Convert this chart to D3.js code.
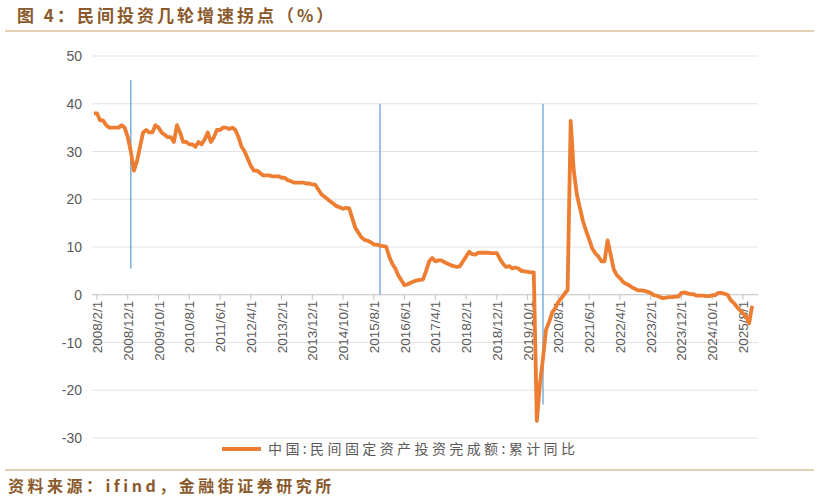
<!DOCTYPE html>
<html><head><meta charset="utf-8">
<script src="https://cdn.jsdelivr.net/npm/d3@7/dist/d3.min.js"></script>
<style>body{margin:0;background:#fff;font-family:"Noto Sans CJK SC",sans-serif}</style>
</head><body><svg id="c" width="819" height="501"></svg>
<script>
// monthly values from Jan 2008 (cumulative YoY, %); category positions
const startYear = 2008;
const values = [
  38, 38, 36.5, 36.5, 35.5, 35, 35, 35, 35, 35.5, 35, 33,
  30, 26, 28, 31, 34, 34.5, 34, 34, 35.5, 35, 34, 33.5,
  33, 33, 32, 35.5, 34, 32, 32, 31.5, 31.5, 31, 32, 31.5,
  32.5, 34, 32, 33, 34.5, 34.5, 35, 35, 34.7, 35, 34.5, 33,
  31, 30, 28.5, 27, 26, 26, 25.5, 25, 25, 25, 24.8, 24.8,
  24.8, 24.5, 24.5, 24, 23.8, 23.5, 23.5, 23.5, 23.5, 23.3, 23.3, 23.1,
  23, 22, 21, 20.5, 20, 19.5, 19, 18.5, 18.3, 18, 18.2, 18.1,
  16, 14, 13, 12, 11.5, 11.3, 11, 10.5, 10.5, 10.3, 10.2, 10.1,
  8, 6.5, 5.5, 4, 3, 2, 2.2, 2.5, 2.8, 3, 3.1, 3.2,
  5, 7, 7.7, 7, 7.2, 7.2, 6.8, 6.5, 6.2, 6, 5.8, 6,
  7, 8, 9, 8.5, 8.4, 8.8, 8.8, 8.8, 8.8, 8.7, 8.7, 8.7,
  7.5, 6.5, 5.8, 6, 5.5, 5.7, 5.5, 5, 4.9, 4.8, 4.7, 4.7,
  -26.4, -18.8, -13.3, -7.3, -5.7, -3.7, -2.8, -1.5, -0.7, 0.2, 1.0,
  36.4, 26, 21, 18.2, 15.4, 13.4, 11.6, 9.7, 8.7, 8, 7,
  7, 11.4, 8.4, 5.3, 4.1, 3.5, 2.7, 2.3, 2.0, 1.5, 1.2, 0.9,
  0.9, 0.8, 0.6, 0.4, -0.1, -0.2, -0.5, -0.7, -0.6, -0.5, -0.5, -0.4,
  -0.4, 0.4, 0.5, 0.3, 0.1, 0.1, -0.2, -0.2, -0.2, -0.3, -0.3, -0.1,
  -0.1, 0.4, 0.4, 0.2, 0, -1.1, -1.7, -2.5, -3.2, -3.9, -4.5, -6.0, -2.3
];
const yTicks = [50, 40, 30, 20, 10, 0, -10, -20, -30];
// turning points: [category index, top value, bottom value]
const markers = [[12, 45, 5.5], [93, 40, 0], [146, 40, -23]];
const seriesName = "中国:民间固定资产投资完成额:累计同比";

const svg = d3.select("#c");
const brown = "#8a5a2c";
const x = d3.scaleLinear().domain([1, 212]).range([97, 746]);
const y = d3.scaleLinear().domain([-30, 50]).range([438, 56]);

svg.append("text").attr("x", 17).attr("y", 22).attr("fill", brown)
  .attr("font-size", 17).attr("font-weight", "bold").attr("letter-spacing", 3)
  .text("图 4：民间投资几轮增速拐点（%）");
svg.append("line").attr("x1", 5).attr("x2", 814).attr("y1", 31).attr("y2", 31)
  .attr("stroke", "#c9a46a").attr("stroke-width", 1.2);

svg.selectAll(".grid").data(yTicks).join("line")
  .attr("x1", 92).attr("x2", 758).attr("y1", d => y(d)).attr("y2", d => y(d))
  .attr("stroke", d => d === 0 ? "#bfbfbf" : "#e3e3e3");
svg.selectAll(".yl").data(yTicks).join("text")
  .attr("x", 82).attr("y", d => y(d) + 5).attr("text-anchor", "end")
  .attr("font-family", "Liberation Sans, Arial").attr("font-size", 14).attr("fill", "#595959")
  .text(d => d);

// x ticks every 10 months from 2008/2
const xt = d3.range(1, 213, 10);
const g = svg.append("g");
g.selectAll("line").data(xt).join("line")
  .attr("x1", d => x(d)).attr("x2", d => x(d)).attr("y1", y(0)).attr("y2", y(0) + 5)
  .attr("stroke", "#bfbfbf");
g.selectAll("text").data(xt).join("text")
  .attr("transform", d => `translate(${x(d) + 5},${y(0) + 6}) rotate(-90)`)
  .attr("text-anchor", "end").attr("font-family", "Liberation Sans, Arial")
  .attr("font-size", 13.5).attr("fill", "#595959")
  .text(d => `${startYear + Math.floor(d / 12)}/${d % 12 + 1}/1`);

svg.selectAll(".mk").data(markers).join("line")
  .attr("x1", d => x(d[0])).attr("x2", d => x(d[0]))
  .attr("y1", d => y(d[1])).attr("y2", d => y(d[2]))
  .attr("stroke", "#5b9bd5").attr("stroke-width", 1.2);

svg.append("path").datum(values)
  .attr("d", d3.line().x((d, i) => x(i)).y(d => y(d)))
  .attr("fill", "none").attr("stroke", "#ed7d31").attr("stroke-width", 3.8)
  .attr("stroke-linejoin", "round");

svg.append("line").attr("x1", 222).attr("x2", 261).attr("y1", 449).attr("y2", 449)
  .attr("stroke", "#ed7d31").attr("stroke-width", 3.8);
svg.append("text").attr("x", 268).attr("y", 454).attr("font-size", 14)
  .attr("letter-spacing", 3.4).attr("fill", "#595959").text(seriesName);

svg.append("line").attr("x1", 5).attr("x2", 814).attr("y1", 470).attr("y2", 470)
  .attr("stroke", "#c9a46a").attr("stroke-width", 1.2);
svg.append("text").attr("x", 8).attr("y", 492).attr("fill", brown)
  .attr("font-size", 16).attr("font-weight", "bold").attr("letter-spacing", 3.5)
  .text("资料来源：ifind，金融街证券研究所");
</script></body></html>
